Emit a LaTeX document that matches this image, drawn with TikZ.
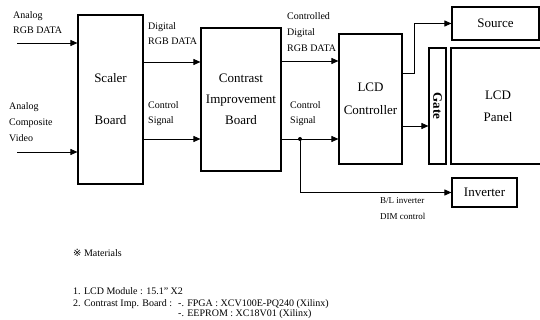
\documentclass[tikz,border=0pt]{standalone}
\usepackage{fontspec}
\setmainfont{Liberation Serif}
\newfontfamily\refmark{DejaVu Sans}
\usetikzlibrary{positioning, arrows.meta}

\begin{document}
\begin{tikzpicture}[
    x = 1pt, y = -1pt,
    box/.style = {
        draw, rectangle, line width=1.1pt, inner sep=0pt, align=center,
        font=\fontsize{13}{21}\selectfont
    },
    lbl/.style = {
        inner sep=0pt, anchor=north west, align=left,
        font=\fontsize{10}{15}\selectfont
    },
    matl/.style = {lbl, font=\fontsize{10}{13}\selectfont},
    wire/.style = {line width=0.8pt, -{Triangle[length=7pt, width=6pt]}},
    link/.style = {line width=0.8pt}
  ]
    \useasboundingbox (0,0) rectangle (540,320);
    \clip (0,0) rectangle (540,320);

    % boards and panel parts
    \node[box, minimum width=65pt, minimum height=169pt,
          font=\fontsize{13}{42}\selectfont] (scaler) at (110.5,99.5) {Scaler\\Board};
    \node[box, minimum width=80pt, minimum height=143pt] (contrast) at (241,99.5) {Contrast\\Improvement\\Board};
    \node[box, minimum width=63pt, minimum height=130pt,
          font=\fontsize{13}{23}\selectfont] (lcdctrl) at (370.5,99) {LCD\\Controller};
    \node[box, minimum width=87pt, minimum height=33pt] (source) at (495.5,23.5) {Source};
    \node[box, minimum width=17pt, minimum height=116pt] (gate) at (437.5,106) {\rotatebox{-90}{\bfseries Gate}};
    \node[box, minimum width=94pt, minimum height=116pt,
          font=\fontsize{13}{22}\selectfont] (panel) at (498,106) {LCD\\Panel};
    \node[box, minimum width=65pt, minimum height=29pt] (inverter) at (484.5,192.5) {Inverter};

    % inputs
    \coordinate (rgbin) at (17,43);
    \coordinate (cvbsin) at (17,152);
    \draw[wire] (rgbin) -- (rgbin -| scaler.west);
    \draw[wire] (cvbsin) -- (cvbsin -| scaler.west);

    % scaler -> contrast
    \draw[wire] (scaler.east |- 0,62) -- (contrast.west |- 0,62);
    \draw[wire] (scaler.east |- 0,139) -- (contrast.west |- 0,139);

    % contrast -> controller
    \coordinate (split) at (300,139);
    \draw[wire] (contrast.east |- 0,61) -- (lcdctrl.west |- 0,61);
    \draw[wire] (contrast.east |- split) -- (lcdctrl.west |- split);
    \fill (split) circle (2pt);
    \draw[wire] (split) |- (inverter.west);

    % controller -> panel
    \draw[wire] (lcdctrl.east |- 0,73) -- ++(12,0) |- (source.west);
    \draw[wire] (lcdctrl.east |- 0,126) -- (gate.west |- 0,126);

    % labels
    \node[lbl] (rgblbl) at (13,11) {Analog\\RGB DATA};
    \node[lbl, font=\fontsize{10}{16}\selectfont] (cvbslbl) at (9,102) {Analog\\Composite\\Video};
    \node[lbl] (digilbl) at (148,22) {Digital\\RGB DATA};
    \node[lbl] (ctl1lbl) at (148,101) {Control\\Signal};
    \node[lbl, font=\fontsize{10}{16}\selectfont] (cdiglbl) at (287,12) {Controlled\\Digital\\RGB DATA};
    \node[lbl] (ctl2lbl) at (290,101) {Control\\Signal};
    \node[lbl, font=\fontsize{9}{16}\selectfont] (dimlbl) at (380,197) {B/L inverter\\DIM control};

    % materials
    \node[matl] (mattitle) at (73,249) {{\refmark ※} Materials};
    \node[matl] (mat1) at (73,287) {1. LCD Module : 15.1'' X2};
    \node[matl] (mat2) at (73,299) {2. Contrast Imp. Board :};
    \node[matl] (fpga) at (178,299) {-. FPGA : XCV100E-PQ240 (Xilinx)};
    \node[matl] (eeprom) at (178,309) {-. EEPROM : XC18V01 (Xilinx)};
\end{tikzpicture}
\end{document}
